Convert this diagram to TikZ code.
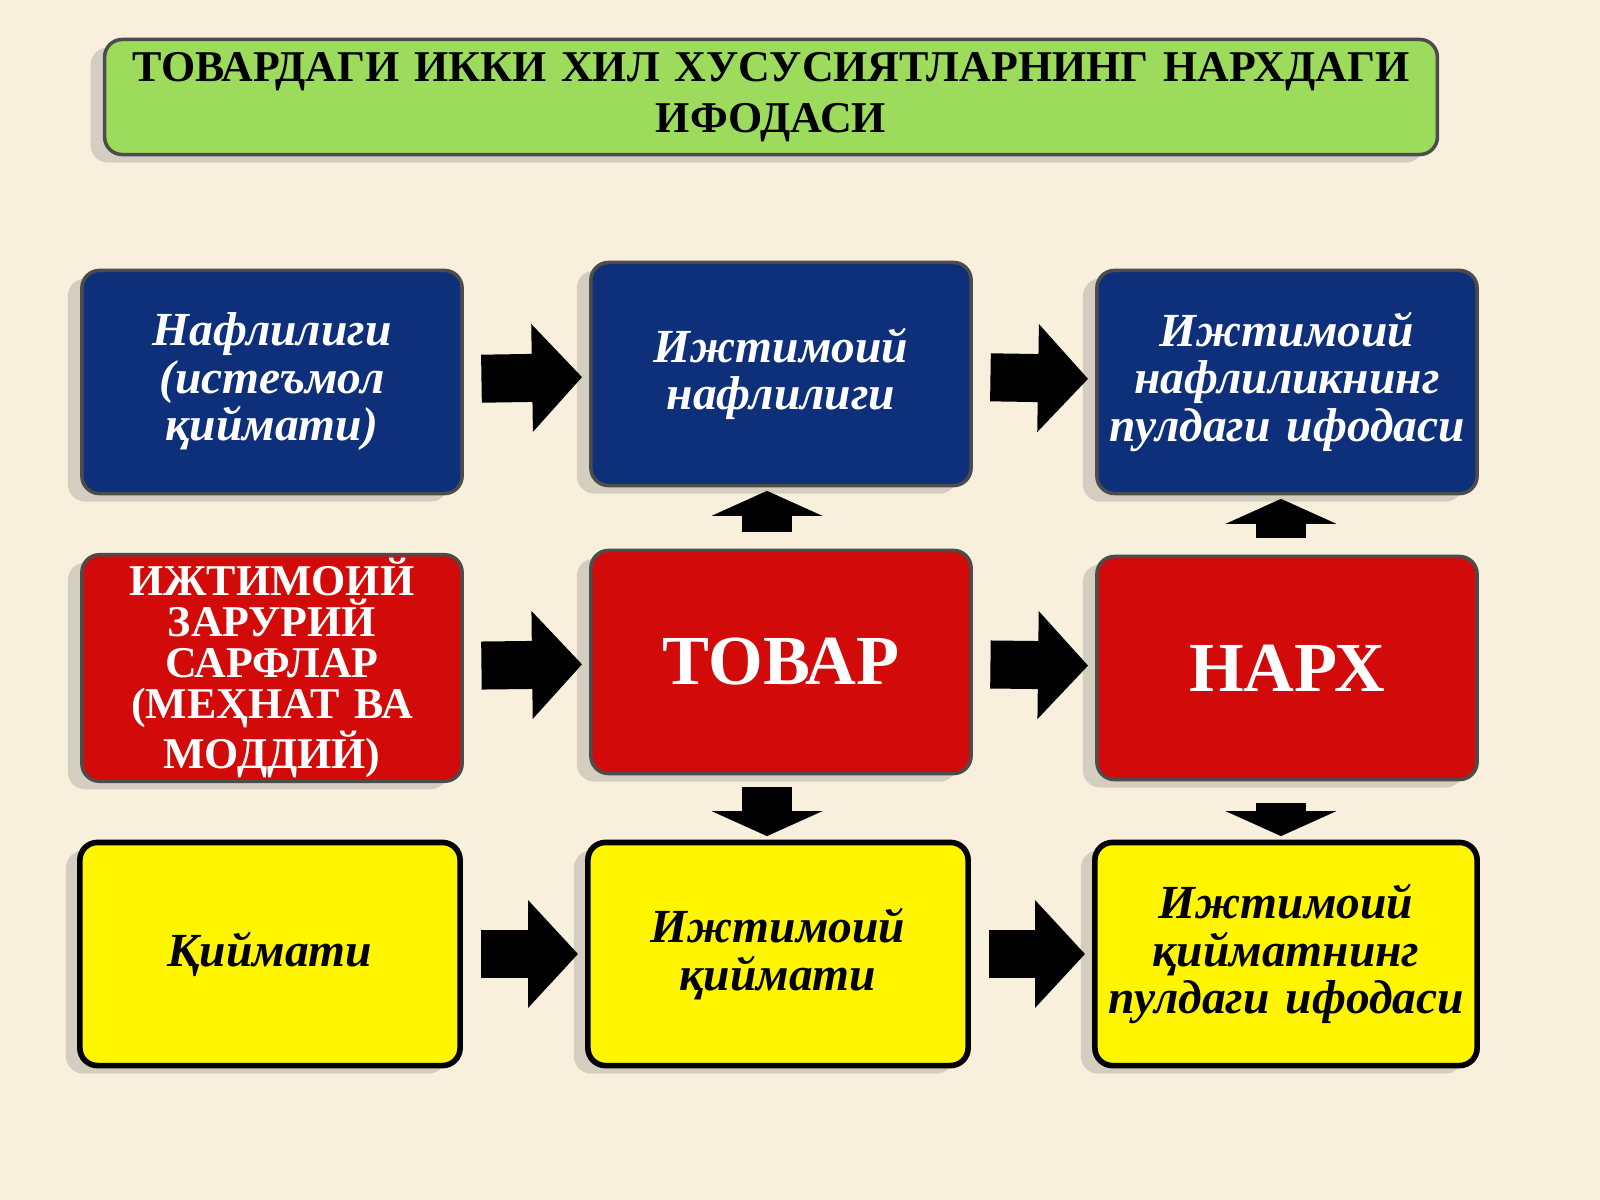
\documentclass[tikz,border=0pt]{standalone}
\usepackage{fontspec}
\setmainfont{Liberation Serif}
\usetikzlibrary{arrows.meta, positioning, shadows}
\definecolor{bgc}{HTML}{F8F0DC}
\definecolor{bluebox}{HTML}{0E2F7A}
\definecolor{redbox}{HTML}{D20A0A}
\definecolor{yellowbox}{HTML}{FFF500}
\definecolor{greenbox}{HTML}{9CDB5C}

\begin{document}
\begin{tikzpicture}[x=0.01cm,y=-0.01cm]
    \tikzstyle{box}=[rectangle,rounded corners=5pt,draw=black!70,line width=1pt,minimum width=3.8cm,minimum height=2.23cm,text width=3.7cm,inner sep=1pt,align=center,font=\bfseries\itshape\fontsize{13.5}{13.5}\selectfont,drop shadow={opacity=0.3,shadow xshift=-4pt}]
    \tikzstyle{blue box}=[box, fill=bluebox, text=white]
    \tikzstyle{red box}=[box, fill=redbox, text=white, font=\bfseries\fontsize{12.5}{11.6}\selectfont]
    \tikzstyle{yellow box}=[box, fill=yellowbox, text=black, line width=1.6pt, draw=black]
    \tikzstyle{big arrow}=[line width=0.48cm, -{Triangle[length=0.5cm,width=1.05cm]}, shorten <=5pt, shorten >=2pt]
    \tikzstyle{small arrow}=[line width=0.5cm, -{Triangle[length=0.25cm,width=1.1cm]}, shorten <=2pt, shorten >=1pt]

    \useasboundingbox (0,0) rectangle (1600,1200);
    \fill[bgc] (0,0) rectangle (1600,1200);

    \node[box, fill=greenbox, minimum width=13.3cm, text width=13.25cm, minimum height=1.15cm, font=\bfseries\fontsize{12.5}{14.5}\selectfont, text=black] (T) at (771,97) {ТОВАРДАГИ ИККИ ХИЛ ХУСУСИЯТЛАРНИНГ НАРХДАГИ\\ИФОДАСИ};

    \node[blue box] (B-1) at (272,382) {Нафлилиги\\(истеъмол\\қиймати)};
    \node[blue box] (B-2) at (781,374) {Ижтимоий\\нафлилиги};
    \node[blue box] (B-3) at (1287,382) {Ижтимоий\\нафлиликнинг\\пулдаги ифодаси};

    \node[red box] (R-1) at (272,668) {ИЖТИМОИЙ\\ЗАРУРИЙ\\САРФЛАР\\(МЕҲНАТ ВА\\МОДДИЙ)};
    \node[red box, font=\bfseries\fontsize{20}{20}\selectfont] (R-2) at (781,662) {ТОВАР};
    \node[red box, font=\bfseries\fontsize{20}{20}\selectfont] (R-3) at (1287,668) {НАРХ};

    \node[yellow box] (Y-1) at (270,954) {Қиймати};
    \node[yellow box] (Y-2) at (778,954) {Ижтимоий\\қиймати};
    \node[yellow box, minimum width=3.82cm] (Y-3) at (1286,954) {Ижтимоий\\қийматнинг\\пулдаги ифодаси};

    \draw[big arrow] (B-1) -- (B-2);
    \draw[big arrow] (B-2) -- (B-3);
    \draw[big arrow] (R-1) -- (R-2);
    \draw[big arrow] (R-2) -- (R-3);
    \draw[big arrow] (Y-1) -- (Y-2);
    \draw[big arrow] (Y-2) -- (Y-3);

    \draw[small arrow] (R-2.north) ++(-14,-10) coordinate (u1) -- (u1 |- B-2.south);
    \draw[small arrow] (R-3.north) ++(-6,-10) coordinate (u2) -- (u2 |- B-3.south);
    \draw[small arrow] (R-2.south) ++(-14,5) coordinate (d1) -- (d1 |- Y-2.north);
    \draw[small arrow] (R-3.south) ++(-6,15) coordinate (d2) -- (d2 |- Y-3.north);
\end{tikzpicture}
\end{document}
